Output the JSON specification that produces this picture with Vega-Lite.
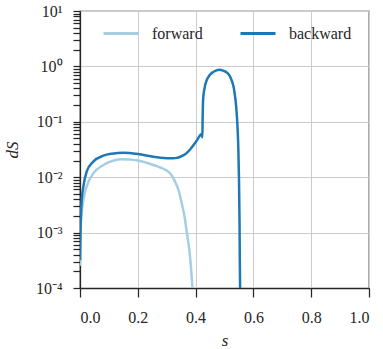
{
  "$schema": "https://vega.github.io/schema/vega-lite/v6.json",
  "autosize": {"type": "none"},
  "padding": {"left": 80, "top": 11, "right": 14, "bottom": 61},
  "width": 289,
  "height": 277,
  "background": "white",
  "config": {
    "view": {"stroke": "#262626", "strokeWidth": 1.25},
    "axis": {
      "labelFont": "Liberation Serif", "labelFontSize": 16, "labelColor": "#262626",
      "titleFont": "Liberation Serif", "titleFontSize": 17, "titleColor": "#262626",
      "titleFontWeight": "normal", "titleFontStyle": "italic",
      "gridColor": "#cccccc", "gridWidth": 1,
      "domainColor": "#262626", "domainWidth": 1.25, "tickColor": "#262626", "tickWidth": 1.25
    },
    "legend": {
      "labelFont": "Liberation Serif", "labelFontSize": 16, "labelColor": "#262626"
    }
  },
  "data": {"values": [
    {"s": 0.000, "dS": 0.000251, "series": "forward"},
    {"s": 0.002, "dS": 0.0010, "series": "forward"},
    {"s": 0.005, "dS": 0.0020, "series": "forward"},
    {"s": 0.0116, "dS": 0.00389, "series": "forward"},
    {"s": 0.023, "dS": 0.00676, "series": "forward"},
    {"s": 0.046, "dS": 0.01175, "series": "forward"},
    {"s": 0.081, "dS": 0.0166, "series": "forward"},
    {"s": 0.11, "dS": 0.0195, "series": "forward"},
    {"s": 0.139, "dS": 0.0211, "series": "forward"},
    {"s": 0.17, "dS": 0.0209, "series": "forward"},
    {"s": 0.2, "dS": 0.0200, "series": "forward"},
    {"s": 0.23, "dS": 0.0182, "series": "forward"},
    {"s": 0.254, "dS": 0.0166, "series": "forward"},
    {"s": 0.28, "dS": 0.0148, "series": "forward"},
    {"s": 0.30, "dS": 0.0132, "series": "forward"},
    {"s": 0.315, "dS": 0.0112, "series": "forward"},
    {"s": 0.329, "dS": 0.00832, "series": "forward"},
    {"s": 0.342, "dS": 0.00562, "series": "forward"},
    {"s": 0.352, "dS": 0.00339, "series": "forward"},
    {"s": 0.362, "dS": 0.00191, "series": "forward"},
    {"s": 0.370, "dS": 0.000977, "series": "forward"},
    {"s": 0.378, "dS": 0.000501, "series": "forward"},
    {"s": 0.384, "dS": 0.000240, "series": "forward"},
    {"s": 0.389, "dS": 0.0001, "series": "forward"},
    {"s": 0.000, "dS": 0.000316, "series": "backward"},
    {"s": 0.002, "dS": 0.00126, "series": "backward"},
    {"s": 0.006, "dS": 0.00389, "series": "backward"},
    {"s": 0.0116, "dS": 0.00676, "series": "backward"},
    {"s": 0.023, "dS": 0.0126, "series": "backward"},
    {"s": 0.046, "dS": 0.0191, "series": "backward"},
    {"s": 0.081, "dS": 0.0245, "series": "backward"},
    {"s": 0.11, "dS": 0.0266, "series": "backward"},
    {"s": 0.15, "dS": 0.0277, "series": "backward"},
    {"s": 0.2, "dS": 0.0263, "series": "backward"},
    {"s": 0.254, "dS": 0.0234, "series": "backward"},
    {"s": 0.29, "dS": 0.0221, "series": "backward"},
    {"s": 0.312, "dS": 0.0219, "series": "backward"},
    {"s": 0.33, "dS": 0.0221, "series": "backward"},
    {"s": 0.347, "dS": 0.0234, "series": "backward"},
    {"s": 0.365, "dS": 0.0263, "series": "backward"},
    {"s": 0.381, "dS": 0.0316, "series": "backward"},
    {"s": 0.393, "dS": 0.0380, "series": "backward"},
    {"s": 0.405, "dS": 0.0468, "series": "backward"},
    {"s": 0.416, "dS": 0.0575, "series": "backward"},
    {"s": 0.421, "dS": 0.0603, "series": "backward"},
    {"s": 0.4235, "dS": 0.0525, "series": "backward"},
    {"s": 0.4245, "dS": 0.126, "series": "backward"},
    {"s": 0.426, "dS": 0.251, "series": "backward"},
    {"s": 0.430, "dS": 0.380, "series": "backward"},
    {"s": 0.439, "dS": 0.575, "series": "backward"},
    {"s": 0.447, "dS": 0.676, "series": "backward"},
    {"s": 0.456, "dS": 0.759, "series": "backward"},
    {"s": 0.470, "dS": 0.841, "series": "backward"},
    {"s": 0.483, "dS": 0.871, "series": "backward"},
    {"s": 0.495, "dS": 0.841, "series": "backward"},
    {"s": 0.508, "dS": 0.776, "series": "backward"},
    {"s": 0.518, "dS": 0.676, "series": "backward"},
    {"s": 0.526, "dS": 0.537, "series": "backward"},
    {"s": 0.531, "dS": 0.437, "series": "backward"},
    {"s": 0.535, "dS": 0.331, "series": "backward"},
    {"s": 0.539, "dS": 0.224, "series": "backward"},
    {"s": 0.543, "dS": 0.123, "series": "backward"},
    {"s": 0.546, "dS": 0.0631, "series": "backward"},
    {"s": 0.548, "dS": 0.0309, "series": "backward"},
    {"s": 0.550, "dS": 0.0100, "series": "backward"},
    {"s": 0.552, "dS": 0.00158, "series": "backward"},
    {"s": 0.553, "dS": 0.000316, "series": "backward"},
    {"s": 0.554, "dS": 0.0001, "series": "backward"}
  ]},
  "mark": {"type": "line", "strokeWidth": 2.5, "interpolate": "monotone", "clip": true},
  "encoding": {
    "x": {
      "field": "s", "type": "quantitative",
      "scale": {"domain": [0, 1], "nice": false, "zero": false},
      "axis": {
        "orient": "bottom", "title": "s", "values": [0, 0.2, 0.4, 0.6, 0.8, 1.0],
        "format": ".1f", "grid": true, "tickSize": 9, "labelPadding": 12,
        "titleX": 144.5, "titleY": 57, "titleBaseline": "alphabetic", "titleAlign": "center"
      }
    },
    "y": {
      "field": "dS", "type": "quantitative",
      "scale": {"type": "log", "domain": [0.0001, 10], "nice": false},
      "axis": {
        "orient": "left", "title": "dS",
        "values": [0.0001,0.0002,0.0003,0.0004,0.0005,0.0006,0.0007,0.0008,0.0009,
                   0.001,0.002,0.003,0.004,0.005,0.006,0.007,0.008,0.009,
                   0.01,0.02,0.03,0.04,0.05,0.06,0.07,0.08,0.09,
                   0.1,0.2,0.3,0.4,0.5,0.6,0.7,0.8,0.9,
                   1,2,3,4,5,6,7,8,9,10],
        "labelExpr": "abs(log(datum.value)/LN10 - round(log(datum.value)/LN10)) < 0.001 ? ['10⁻⁴','10⁻³','10⁻²','10⁻¹','10⁰','10¹'][round(log(datum.value)/LN10)+4] : ''",
        "labelOverlap": false,
        "labelPadding": 11,
        "grid": true,
        "gridOpacity": {"condition": {"test": "abs(log(datum.value)/LN10 - round(log(datum.value)/LN10)) < 0.001", "value": 1}, "value": 0},
        "tickSize": 7,
        "titleX": -68, "titleY": 138.5, "titleAngle": -90, "titleAlign": "center", "titleBaseline": "middle"
      }
    },
    "color": {
      "field": "series", "type": "nominal",
      "scale": {"domain": ["forward", "backward"], "range": ["#a6cee3", "#1f78b4"]},
      "legend": {
        "title": null, "orient": "none", "direction": "horizontal",
        "legendX": 22, "legendY": 3.5,
        "symbolType": "stroke", "symbolSize": 1225, "symbolStrokeWidth": 3,
        "labelOffset": 12, "columnPadding": 31, "padding": 0
      }
    }
  }
}
